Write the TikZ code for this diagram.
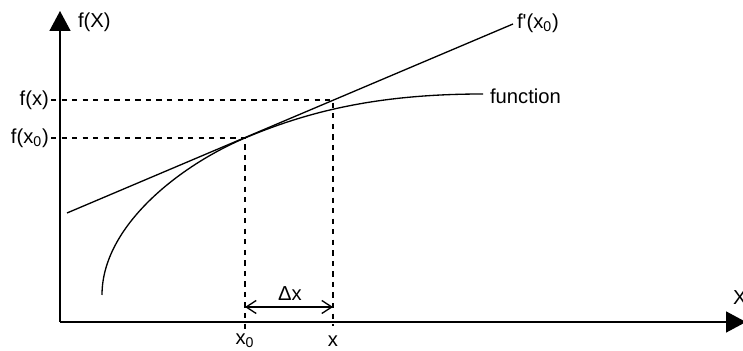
\documentclass[tikz,border=0pt]{standalone}
\usepackage{fontspec}
\setmainfont{Liberation Sans}
\usetikzlibrary{arrows.meta, positioning}

\begin{document}
\begin{tikzpicture}[
    lbl/.style={font=\fontsize{11.5}{13}\selectfont, inner sep=1pt},
    axis/.style={line width=0.9pt, -{Triangle[length=0.4cm, width=0.42cm]}},
    guide/.style={dashed, line width=0.7pt},
    curve/.style={line width=0.75pt},
    arr/.style={line width=0.75pt, {Straight Barb[length=2mm, width=2.6mm]}-{Straight Barb[length=2mm, width=2.6mm]}}
]
\useasboundingbox (0,0) rectangle (14.86,7.02);
\coordinate (o) at (1.2,0.58);
\coordinate (ytip) at (1.2,6.8);
\coordinate (xtip) at (14.92,0.58);
\coordinate (p0) at (4.9,4.26);
\coordinate (p1) at (6.66,5.02);
\coordinate (c0) at (2.04,1.12);
\coordinate (c1) at (9.66,5.14);
\coordinate (t0) at (1.34,2.76);
\coordinate (t1) at (10.26,6.54);
\coordinate (a0) at (4.9,0.88);
\coordinate (a1) at (6.66,0.88);
\coordinate (b0) at (4.9,0.42);
\coordinate (b1) at (6.66,0.5);

\node[lbl, anchor=west] (fX) at (1.52,6.58) {f(X)};
\node[lbl, anchor=east] (fx) at (1.02,5.02) {f(x)};
\node[lbl, anchor=east] (fx0) at (1.02,4.26) {f(x\textsubscript{0})};
\node[lbl] (x0) at (4.9,0.2) {x\textsubscript{0}};
\node[lbl] (x) at (6.66,0.2) {x};
\node[lbl, anchor=west] (X) at (14.62,1.06) {X};
\node[lbl, anchor=west] (fp) at (10.3,6.56) {f\textquotesingle(x\textsubscript{0})};
\node[lbl, anchor=west] (fn) at (9.76,5.1) {function};
\node[lbl] (dx) at (5.8,1.14) {Δx};

\draw[axis] (o) -- (ytip);
\draw[axis] (o) -- (xtip);
\draw[guide] (fx.east) -- (p1) -- (b1);
\draw[guide] (fx0.east) -- (p0) -- (b0);
\draw[curve] (t0) -- (t1);
\draw[curve] (c0) .. controls (2.04,2.5) and (3.6,3.71) .. (p0) .. controls (6.2,4.81) and (7.6,5.14) .. (c1);
\draw[arr] (a0) -- (a1);
\end{tikzpicture}
\end{document}
